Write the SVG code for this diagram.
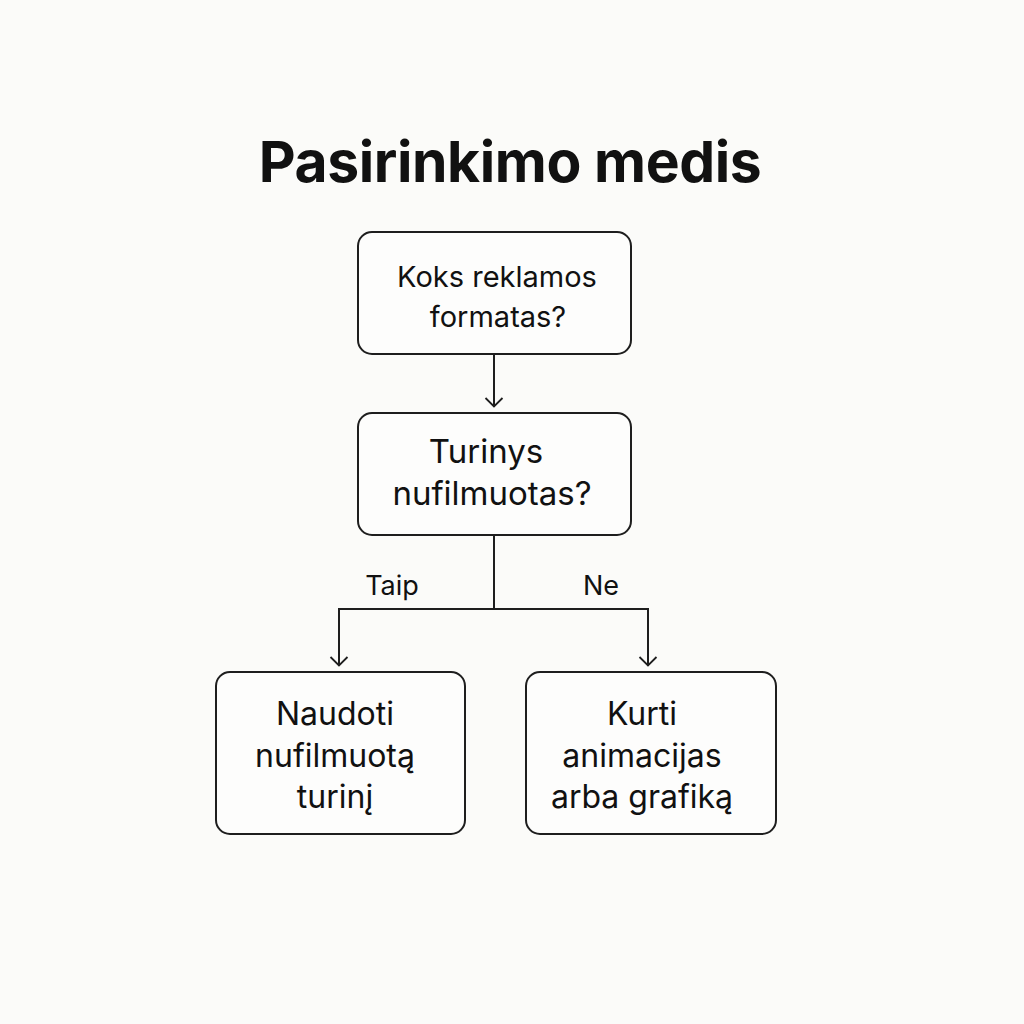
<svg xmlns="http://www.w3.org/2000/svg" width="1024" height="1024" viewBox="0 0 1024 1024">
<defs>
<style>
.box{fill:#fdfdfc;stroke:#1e1e1e;stroke-width:2}
.t{font-family:Inter,"Liberation Sans",Arial,sans-serif;fill:#111;text-anchor:middle}
.c{fill:none;stroke:#1e1e1e;stroke-width:2}
</style>
<marker id="arr" viewBox="0 0 20 20" refX="11" refY="10" markerWidth="20" markerHeight="20" markerUnits="userSpaceOnUse" orient="auto">
<path d="M2,1.5 L10.5,10 L2,18.5" fill="none" stroke="#1e1e1e" stroke-width="1.8"/>
</marker>
</defs>
<rect width="1024" height="1024" fill="#fbfbf9"/>
<text class="t" x="510" y="182" font-size="57" font-weight="700" letter-spacing="-0.4">Pasirinkimo medis</text>
<g id="connectors">
<path class="c" d="M494,355 V407" marker-end="url(#arr)"/>
<path class="c" d="M494,535 V609 H339 V666" marker-end="url(#arr)"/>
<path class="c" d="M494,609 H648 V666" marker-end="url(#arr)"/>
<text class="t" x="392" y="595" font-size="27">Taip</text>
<text class="t" x="601" y="595" font-size="27">Ne</text>
</g>
<g id="n1">
<rect class="box" x="358" y="232" width="273" height="122" rx="14"/>
<text class="t" x="497" y="287" font-size="29">Koks reklamos</text>
<text class="t" x="498" y="327" font-size="29">formatas?</text>
</g>
<g id="n2">
<rect class="box" x="358" y="413" width="273" height="122" rx="14"/>
<text class="t" x="486" y="463" font-size="33">Turinys</text>
<text class="t" x="492" y="505" font-size="33">nufilmuotas?</text>
</g>
<g id="n3">
<rect class="box" x="216" y="672" width="249" height="162" rx="14"/>
<text class="t" x="335" y="725" font-size="32">Naudoti</text>
<text class="t" x="335" y="767" font-size="32">nufilmuotą</text>
<text class="t" x="335" y="808" font-size="32">turinį</text>
</g>
<g id="n4">
<rect class="box" x="526" y="672" width="250" height="162" rx="14"/>
<text class="t" x="642" y="725" font-size="32">Kurti</text>
<text class="t" x="642" y="767" font-size="32">animacijas</text>
<text class="t" x="642" y="808" font-size="32">arba grafiką</text>
</g>
</svg>
